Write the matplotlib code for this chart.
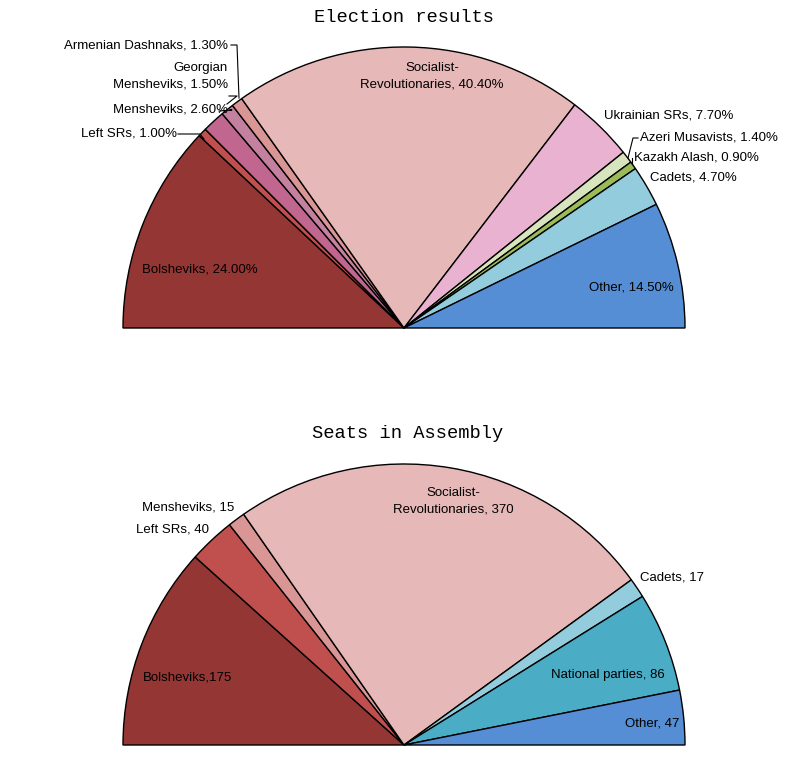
import matplotlib
matplotlib.use("Agg")
import matplotlib.pyplot as plt
from matplotlib.patches import Wedge

# Data
vote_parties = ["Bolsheviks", "Left SRs", "Mensheviks", "Georgian Mensheviks", "Armenian Dashnaks",
                "Socialist-Revolutionaries", "Ukrainian SRs", "Azeri Musavists", "Kazakh Alash", "Cadets", "Other"]
vote_pct = [24.0, 1.0, 2.6, 1.5, 1.3, 40.4, 7.7, 1.4, 0.9, 4.7, 14.5]
vote_colors = ["#943634", "#c0504d", "#c0668f", "#c4809f", "#d99694", "#e6b9b8", "#e8b2d0",
               "#d7e4bd", "#9bbb59", "#93cddd", "#558ed5"]
vote_labels = ["Bolsheviks, 24.00%", "Left SRs, 1.00%", "Mensheviks, 2.60%", "Georgian\nMensheviks, 1.50%",
               "Armenian Dashnaks, 1.30%", "Socialist-\nRevolutionaries, 40.40%", "Ukrainian SRs, 7.70%",
               "Azeri Musavists, 1.40%", "Kazakh Alash, 0.90%", "Cadets, 4.70%", "Other, 14.50%"]

seat_parties = ["Bolsheviks", "Left SRs", "Mensheviks", "Socialist-Revolutionaries", "Cadets", "National parties", "Other"]
seat_counts = [175, 40, 15, 370, 17, 86, 47]
seat_colors = ["#943634", "#c0504d", "#d99694", "#e6b9b8", "#93cddd", "#4bacc6", "#558ed5"]
seat_labels = ["Bolsheviks,175", "Left SRs, 40", "Mensheviks, 15", "Socialist-\nRevolutionaries, 370",
               "Cadets, 17", "National parties, 86", "Other, 47"]

W, H = 800, 761
fig = plt.figure(figsize=(8, 7.61), dpi=100)
ax = fig.add_axes([0, 0, 1, 1])
ax.set_xlim(0, W)
ax.set_ylim(H, 0)
ax.axis("off")

R = 281

def half_pie(cx, cy, values, colors):
    total = sum(values)
    cum = 0
    for v, c in zip(values, colors):
        # inverted y axis: angle measured clockwise visually; use negative angles
        t1 = 180 + cum / total * 180
        t2 = 180 + (cum + v) / total * 180
        ax.add_patch(Wedge((cx, cy), R, t1, t2, facecolor=c, edgecolor="black", linewidth=1))
        cum += v

half_pie(404, 328, vote_pct, vote_colors)
half_pie(404, 745, seat_counts, seat_colors)

fs = 9.5
# top labels: (x, y, ha)
top_pos = [(200, 270, "center"), (177, 134, "right"), (228, 110, "right"), (228, 76, "right"),
           (228, 45, "right"), (432, 76, "center"), (604, 115, "left"), (640, 138, "left"),
           (634, 157, "left"), (650, 177, "left"), (631, 288, "center")]
for (x, y, ha), t in zip(top_pos, vote_labels):
    ax.text(x, y, t, ha=ha, va="center", fontsize=fs, family="Liberation Sans", linespacing=1.5)

bot_pos = [(188, 678, "center"), (209, 529, "right"), (234, 508, "right"), (453, 501, "center"),
           (640, 578, "left"), (608, 675, "center"), (652, 724, "center")]
for (x, y, ha), t in zip(bot_pos, seat_labels):
    ax.text(x, y, t, ha=ha, va="center", fontsize=fs, family="Liberation Sans", linespacing=1.5)

# leader lines
lk = dict(color="black", linewidth=0.8)
ax.plot([178, 200, 204], [134, 134, 139], **lk)
ax.plot([230, 232, 219], [110, 110, 111], **lk)
ax.plot([229, 237, 227], [96, 96, 104], **lk)
ax.plot([231, 237, 239], [45, 45, 98], **lk)
ax.plot([638, 633, 628], [138, 138, 158], **lk)
ax.plot([632, 632], [158, 164], **lk)

ax.text(404, 17, "Election results", ha="center", va="center", fontsize=13.5, family="Liberation Mono")
ax.text(408, 433, "Seats in Assembly", ha="center", va="center", fontsize=13.5, family="Liberation Mono")

fig.savefig("out.png", dpi=100)
